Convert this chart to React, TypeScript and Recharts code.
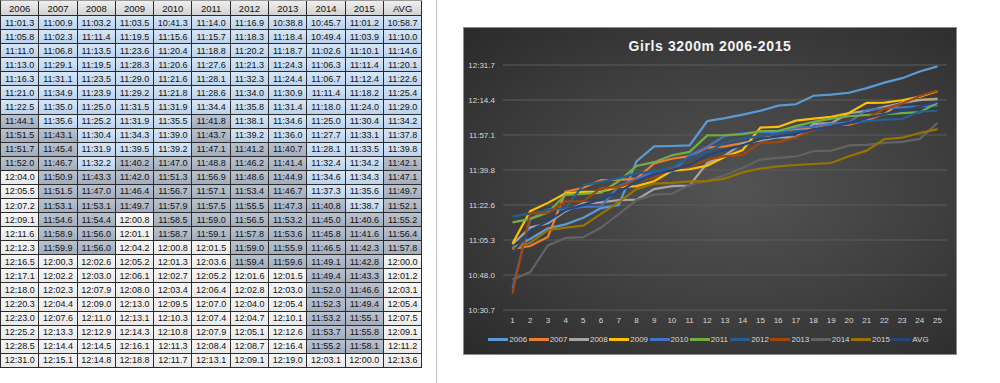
import * as React from 'react';
import { LineChart, Line, XAxis, YAxis, CartesianGrid, Legend } from 'recharts';

// finishing places (1st..25th) and times per year, as shown in the sheet
const places = ['1', '2', '3', '4', '5', '6', '7', '8', '9', '10', '11', '12', '13',
  '14', '15', '16', '17', '18', '19', '20', '21', '22', '23', '24', '25'];

const years = ['2006', '2007', '2008', '2009', '2010', '2011', '2012', '2013', '2014', '2015', 'AVG'];

const t2006 = ['11:01.3', '11:05.8', '11:11.0', '11:13.0', '11:16.3', '11:21.0', '11:22.5', '11:44.1', '11:51.5', '11:51.7', '11:52.0', '12:04.0', '12:05.5', '12:07.2', '12:09.1', '12:11.6', '12:12.3', '12:16.5', '12:17.1', '12:18.0', '12:20.3', '12:23.0', '12:25.2', '12:28.5', '12:31.0'];
const t2007 = ['11:00.9', '11:02.3', '11:06.8', '11:29.1', '11:31.1', '11:34.9', '11:35.0', '11:35.6', '11:43.1', '11:45.4', '11:46.7', '11:50.9', '11:51.5', '11:53.1', '11:54.6', '11:58.9', '11:59.9', '12:00.3', '12:02.2', '12:02.3', '12:04.4', '12:07.6', '12:13.3', '12:14.4', '12:15.1'];
const t2008 = ['11:03.2', '11:11.4', '11:13.5', '11:19.5', '11:23.5', '11:23.9', '11:25.0', '11:25.2', '11:30.4', '11:31.9', '11:32.2', '11:43.3', '11:47.0', '11:53.1', '11:54.4', '11:56.0', '11:56.0', '12:02.6', '12:03.0', '12:07.9', '12:09.0', '12:11.0', '12:12.9', '12:14.5', '12:14.8'];
const t2009 = ['11:03.5', '11:19.5', '11:23.6', '11:28.3', '11:29.0', '11:29.2', '11:31.5', '11:31.9', '11:34.3', '11:39.5', '11:40.2', '11:42.0', '11:46.4', '11:49.7', '12:00.8', '12:01.1', '12:04.2', '12:05.2', '12:06.1', '12:08.0', '12:13.0', '12:13.1', '12:14.3', '12:16.1', '12:18.8'];
const t2010 = ['10:41.3', '11:15.6', '11:20.4', '11:20.6', '11:21.6', '11:21.8', '11:31.9', '11:35.5', '11:39.0', '11:39.2', '11:47.0', '11:51.3', '11:56.7', '11:57.9', '11:58.5', '11:58.7', '12:00.8', '12:01.3', '12:02.7', '12:03.4', '12:09.5', '12:10.3', '12:10.8', '12:11.3', '12:11.7'];
const t2011 = ['11:14.0', '11:15.7', '11:18.8', '11:27.6', '11:28.1', '11:28.6', '11:34.4', '11:41.8', '11:43.7', '11:47.1', '11:48.8', '11:56.9', '11:57.1', '11:57.5', '11:59.0', '11:59.1', '12:01.5', '12:03.6', '12:05.2', '12:06.4', '12:07.0', '12:07.4', '12:07.9', '12:08.4', '12:13.1'];
const t2012 = ['11:16.9', '11:18.3', '11:20.2', '11:21.3', '11:32.3', '11:34.0', '11:35.8', '11:38.1', '11:39.2', '11:41.2', '11:46.2', '11:48.6', '11:53.4', '11:55.5', '11:56.5', '11:57.8', '11:59.0', '11:59.4', '12:01.6', '12:02.8', '12:04.0', '12:04.7', '12:05.1', '12:08.7', '12:09.1'];
const t2013 = ['10:38.8', '11:18.4', '11:18.7', '11:24.3', '11:24.4', '11:30.9', '11:31.4', '11:34.6', '11:36.0', '11:40.7', '11:41.4', '11:44.9', '11:46.7', '11:47.3', '11:53.2', '11:53.6', '11:55.9', '11:59.6', '12:01.5', '12:03.0', '12:05.4', '12:10.1', '12:12.6', '12:16.4', '12:19.0'];
const t2014 = ['10:45.7', '10:49.4', '11:02.6', '11:06.3', '11:06.7', '11:11.4', '11:18.0', '11:25.0', '11:27.7', '11:28.1', '11:32.4', '11:34.6', '11:37.3', '11:40.8', '11:45.0', '11:45.8', '11:46.5', '11:49.1', '11:49.4', '11:52.0', '11:52.3', '11:53.2', '11:53.7', '11:55.2', '12:03.1'];
const t2015 = ['11:01.2', '11:03.9', '11:10.1', '11:11.4', '11:12.4', '11:18.2', '11:24.0', '11:30.4', '11:33.1', '11:33.5', '11:34.2', '11:34.3', '11:35.6', '11:38.7', '11:40.6', '11:41.6', '11:42.3', '11:42.8', '11:43.3', '11:46.6', '11:49.4', '11:55.1', '11:55.8', '11:58.1', '12:00.0'];
const tAvg = ['10:58.7', '11:10.0', '11:14.6', '11:20.1', '11:22.6', '11:25.4', '11:29.0', '11:34.2', '11:37.8', '11:39.8', '11:42.1', '11:47.1', '11:49.7', '11:52.1', '11:55.2', '11:56.4', '11:57.8', '12:00.0', '12:01.2', '12:03.1', '12:05.4', '12:07.5', '12:09.1', '12:11.2', '12:13.6'];

// y ticks in seconds (10:30.7 .. 12:31.7)
const yTicks = [630.7, 647.986, 665.271, 682.557, 699.843, 717.129, 734.414, 751.7];

const columns = [t2006, t2007, t2008, t2009, t2010, t2011, t2012, t2013, t2014, t2015, tAvg];
const colors = ['#5B9BD5', '#ED7D31', '#A5A5A5', '#FFC000', '#4472C4', '#70AD47',
  '#255E91', '#9E480E', '#636363', '#997300', '#264478'];

const toSec = (s: string) => {
  const [m, r] = s.split(':');
  return Number(m) * 60 + Number(r);
};

const fmt = (v: number) => {
  const m = Math.floor(v / 60);
  const s = (v - m * 60).toFixed(1).padStart(4, '0');
  return `${m}:${s}`;
};

const chartData = places.map((p, i) => {
  const row: Record<string, string | number> = { place: p };
  years.forEach((y, j) => { row[y] = toSec(columns[j][i]); });
  return row;
});

const cellBg = (v: number) => {
  if (v < 700) return 'linear-gradient(#d7e6f6, #bcd3ec)';
  if (v < 720) return 'linear-gradient(#bac2ce, #a2adbd)';
  return 'linear-gradient(#f7f7f7, #e9e9e9)';
};

function SheetTable() {
  const cell: React.CSSProperties = {
    borderRight: '1px solid #2b2b2b', borderBottom: '1px solid #2b2b2b',
    boxSizing: 'border-box', display: 'flex', alignItems: 'center', justifyContent: 'center',
    fontSize: 9, color: '#111',
  };
  return (
    <div style={{
      position: 'absolute', left: 0, top: 0, display: 'grid',
      gridTemplateColumns: 'repeat(11, 38.3px)', gridTemplateRows: '15px repeat(25, 14.08px)',
      borderLeft: '1px solid #2b2b2b', borderTop: '1px solid #9a9a9a',
      fontFamily: '"Liberation Sans", Arial, sans-serif',
    }}>
      {years.map((y) => (
        <div key={y} style={{ ...cell, fontSize: 9.5, background: 'linear-gradient(#efefef, #d2d2d2)' }}>{y}</div>
      ))}
      {places.map((p, i) => columns.map((col, j) => (
        <div key={p + '-' + j} style={{ ...cell, background: cellBg(toSec(col[i])) }}>{col[i]}</div>
      )))}
    </div>
  );
}

function LegendRow() {
  return (
    <div style={{ display: 'flex', justifyContent: 'center', alignItems: 'center', fontSize: 8, color: '#d9d9d9' }}>
      {years.map((y, j) => (
        <div key={y} style={{ display: 'flex', alignItems: 'center', width: 40.3 }}>
          <span style={{ display: 'inline-block', width: 20, height: 2.5, background: colors[j], marginRight: 1 }} />
          <span>{y}</span>
        </div>
      ))}
    </div>
  );
}

export default function App() {
  const W = 492;
  const H = 326;
  return (
    <div style={{ position: 'fixed', left: 0, top: 0, width: 1000, height: 383, background: '#fff', overflow: 'hidden' }}>
      <SheetTable />
      <div style={{ position: 'absolute', left: 436, top: 0, width: 1, height: 383, background: '#c4c4c4' }} />
      <div style={{
        position: 'absolute', left: 464, top: 28, width: W, height: H,
        background: 'radial-gradient(ellipse at 55% 50%, #535353 0%, #3e3e3e 55%, #2a2a2a 100%)',
        outline: '1px solid #8c8c8c', fontFamily: '"Liberation Sans", Arial, sans-serif',
      }}>
        <div style={{
          position: 'absolute', left: 0, top: 9, width: W, height: 18, lineHeight: '18px',
          textAlign: 'center', color: '#f2f2f2', fontWeight: 'bold', fontSize: 14,
          letterSpacing: 0.6, zIndex: 2,
        }}>
          Girls 3200m 2006-2015
        </div>
        <LineChart width={W} height={H} data={chartData} margin={{ top: 37, right: 9, bottom: 24, left: 4 }}>
          <CartesianGrid vertical={false} stroke="#5c5c5c" />
          <XAxis
            dataKey="place"
            interval={0}
            padding={{ left: 9.5, right: 9.5 }}
            tickLine={false}
            axisLine={false}
            tickMargin={1}
            height={20}
            tick={{ fill: '#d9d9d9', fontSize: 8 }}
          />
          <YAxis
            domain={[630.7, 751.7]}
            ticks={yTicks}
            tickFormatter={fmt}
            width={35}
            tickLine={false}
            axisLine={false}
            tick={{ fill: '#d9d9d9', fontSize: 8 }}
          />
          <Legend
            verticalAlign="middle"
            content={() => <LegendRow />}
            wrapperStyle={{ top: 307, left: 0, width: W }}
          />
          {years.map((y, j) => (
            <Line
              key={y}
              type="linear"
              dataKey={y}
              stroke={colors[j]}
              strokeWidth={2.2}
              dot={false}
              activeDot={false}
              isAnimationActive={false}
            />
          ))}
        </LineChart>
      </div>
    </div>
  );
}
